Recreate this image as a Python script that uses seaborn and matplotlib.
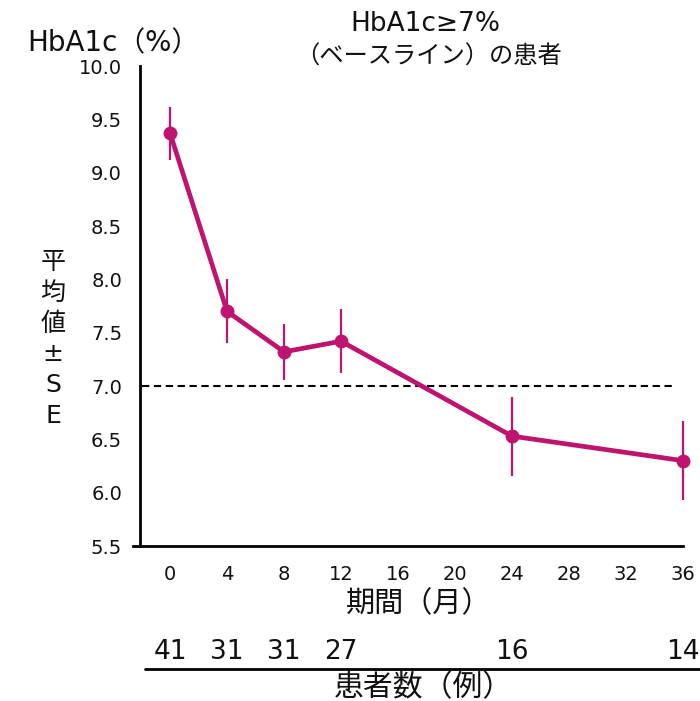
import numpy as np
import pandas as pd
import matplotlib
matplotlib.use("Agg")
import matplotlib.pyplot as plt
import matplotlib.transforms as mtransforms
from matplotlib.lines import Line2D
import seaborn as sns

# HbA1c time course (mean ± SE)
months = [0, 4, 8, 12, 24, 36]
hba1c_mean = [9.37, 7.70, 7.32, 7.42, 6.53, 6.30]
hba1c_se = [0.25, 0.30, 0.26, 0.30, 0.37, 0.37]
n_patients = ["41", "31", "31", "27", "16", "14"]
x_ticks = [0, 4, 8, 12, 16, 20, 24, 28, 32, 36]
y_ticks = [5.5, 6.0, 6.5, 7.0, 7.5, 8.0, 8.5, 9.0, 9.5, 10.0]
target_level = 7.0

sns.set_theme(style="white")
plt.rcParams["font.family"] = ["DejaVu Sans", "Noto Sans CJK JP"]

color = "#BE1470"
txt = "#111111"
df = pd.DataFrame({"month": months, "mean": hba1c_mean, "se": hba1c_se})

fig = plt.figure(figsize=(7.0, 7.01), dpi=100)
ax = fig.add_axes([133 / 700, 1 - 546 / 701, 550 / 700, 480 / 701])

ax.errorbar(df["month"], df["mean"], yerr=df["se"], fmt="none",
            ecolor=color, elinewidth=1.6, capsize=0, zorder=3, clip_on=False)
sns.lineplot(data=df, x="month", y="mean", ax=ax, color=color, lw=3.4,
             marker="o", markersize=10, markeredgewidth=0, zorder=4,
             clip_on=False)

ax.hlines(target_level, -2.0, 35.5, colors="black", linestyles=(0, (3.5, 2.2)),
          lw=1.5, zorder=2)

ax.set_xlim(-2.6, 36)
ax.set_ylim(5.5, 10.0)
ax.set_xticks(x_ticks)
ax.set_yticks(y_ticks)
ax.set_yticklabels([f"{v:.1f}" for v in y_ticks])
ax.set_xlabel("")
ax.set_ylabel("")

for s in ["top", "right"]:
    ax.spines[s].set_visible(False)
ax.spines["left"].set_position(("data", -2.1))
for s in ["left", "bottom"]:
    ax.spines[s].set_color("black")
    ax.spines[s].set_linewidth(2.0)
ax.tick_params(axis="both", direction="out", width=2.0,
               color="black", labelsize=14, labelcolor=txt)
ax.tick_params(axis="x", length=6, pad=8)
ax.tick_params(axis="y", length=7, pad=6)

# titles and axis labels
fig.text(425 / 700, 1 - 24 / 701, "HbA1c≥7%", ha="center", va="center",
         fontsize=19, color=txt)
fig.text(429 / 700, 1 - 57 / 701, "（ベースライン）の患者", ha="center",
         va="center", fontsize=17.5, color=txt)
fig.text(27 / 700, 1 - 43 / 701, "HbA1c（%）", ha="left", va="center",
         fontsize=20, color=txt)

for i, ch in enumerate(["平", "均", "値", "±", "S", "E"]):
    fig.text(53 / 700, 1 - (262 + 30.8 * i) / 701, ch, ha="center",
             va="center", fontsize=18, color=txt)

fig.text(419 / 700, 1 - 604 / 701, "期間（月）", ha="center", va="center",
         fontsize=21, color=txt)

# patient counts below the x-axis
trans = mtransforms.blended_transform_factory(ax.transData, fig.transFigure)
for m, n in zip(months, n_patients):
    fig.text(m, 1 - 652 / 701, n, transform=trans, ha="center", va="center",
             fontsize=19, color=txt)

fig.add_artist(Line2D([145 / 700, 1.0], [1 - 669 / 701, 1 - 669 / 701],
                      transform=fig.transFigure, color="black", lw=2.0))
fig.text(423 / 700, 1 - 688 / 701, "患者数（例）", ha="center", va="center",
         fontsize=21.5, color=txt)

fig.savefig("out.png", dpi=100, facecolor="white")
